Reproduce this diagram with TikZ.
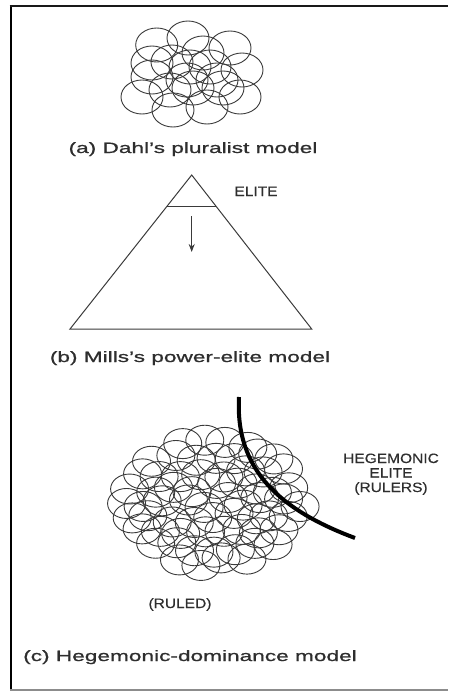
\documentclass[tikz,border=0pt]{standalone}
\usepackage{fontspec}
\setmainfont{Liberation Sans}
\newfontfamily\capfont{Liberation Sans}[FakeStretch=1.51,FakeBold=1.0]
\newfontfamily\lblfont{Liberation Sans}[FakeStretch=1.15,FakeBold=0.3]
\usetikzlibrary{arrows.meta,calc}
\definecolor{ink}{HTML}{2E2E2E}
\definecolor{lineink}{HTML}{3A3A3A}
\tikzset{
  circ/.style={draw=lineink,line width=0.9pt},
  tri/.style={draw=lineink,line width=1pt,line join=miter},
  caption/.style={inner sep=0pt,text=ink,font=\capfont\fontsize{15}{18}\selectfont},
  lbl/.style={inner sep=0pt,text=ink,font=\lblfont\fontsize{13.5}{14.5}\selectfont},
}
\begin{document}
\begin{tikzpicture}[x=1pt,y=-1pt]
\useasboundingbox (0,0) rectangle (448,691);
% frame
\draw[black,line width=2.2pt] (10.6,5) -- (10.6,691);
\draw[black!90,line width=1.8pt] (9.5,6) -- (448,6);
\draw[black!45,line width=1.3pt] (10,690) -- (448,690);

% (a) pluralist model
\foreach \x/\y in {156.7/45,188/38,203/53,230/48,152/63,172/62,190/67,210/67,242/70,
  152/77,187/80,217/80,142/97,170/90,193/88,223/88,240/97,173/110,207/107}
  \draw[circ] (\x,\y) ellipse [x radius=21, y radius=17];
\node[caption,anchor=base] (capa) at (193,153) {(a) Dahl’s pluralist model};

% (b) power-elite model
\coordinate (apex) at (191.7,175);
\coordinate (bl) at (70,329);
\coordinate (br) at (311.7,329);
\draw[tri] (apex) -- (br) -- (bl) -- cycle;
\draw[tri] ($(apex)!0.206!(bl)$) -- ($(apex)!0.206!(br)$);
\coordinate (arrS) at (191.7,216);
\coordinate (arrE) at (191.7,252);
\draw[lineink,line width=1pt,-{Stealth[length=8pt,width=6pt]}] (arrS) -- (arrE);
\node[lbl,anchor=base] (elite) at (256,196) {ELITE};
\node[caption,anchor=base] (capb) at (190,362) {(b) Mills’s power-elite model};

% (c) hegemonic-dominance model
\pgfmathsetseed{7}
\foreach \k/\n in {-4/4,-3/7,-2/8,-1/9,0/10,1/9,2/8,3/7,4/4} {
  \foreach \i in {1,...,\n} {
    \pgfmathsetmacro\xx{213.5 + (\i - (\n+1)/2)*20 + 6*rand}
    \pgfmathsetmacro\yy{502.5 + \k*15 + 5*rand}
    \draw[circ] (\xx,\yy) ellipse [x radius=19, y radius=15];
  }
}
\coordinate (arcS) at (239,397);
\coordinate (arcE) at (355,538);
\draw[black,line width=4pt] (arcS) .. controls (235,470) and (280,510) .. (arcE);
\node[lbl,anchor=base,align=center] (heg) at (391,492) {HEGEMONIC\\ELITE\\(RULERS)};
\node[lbl,anchor=base] (ruled) at (180,608) {(RULED)};
\node[caption,anchor=base west] (capc) at (23,661) {(c) Hegemonic-dominance model};
\end{tikzpicture}
\end{document}
